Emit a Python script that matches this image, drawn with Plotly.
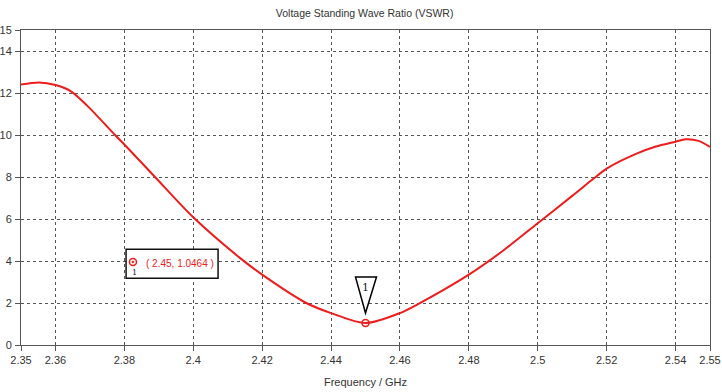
import plotly.graph_objects as go

# --- data ---
freq_ghz = [2.35, 2.3552, 2.36, 2.3643, 2.3692, 2.3773, 2.38, 2.3889, 2.40, 2.4139,
            2.42, 2.4328, 2.44, 2.45, 2.46, 2.4655, 2.48, 2.49, 2.50, 2.51,
            2.5164, 2.52, 2.5285, 2.5343, 2.54, 2.5429, 2.5467, 2.55]
vswr = [12.40, 12.50, 12.38, 12.1, 11.4, 10.0, 9.55, 8.0, 6.08, 4.1,
        3.35, 2.0, 1.52, 1.0464, 1.52, 1.97, 3.35, 4.5, 5.8, 7.1,
        7.95, 8.4, 9.1, 9.45, 9.68, 9.8, 9.72, 9.43]

x_tickvals = [2.35, 2.36, 2.38, 2.40, 2.42, 2.44, 2.46, 2.48, 2.50, 2.52, 2.54, 2.55]
x_ticktext = ["2.35", "2.36", "2.38", "2.4", "2.42", "2.44", "2.46", "2.48", "2.5", "2.52", "2.54", "2.55"]
y_tickvals = [0, 2, 4, 6, 8, 10, 12, 14, 15]

marker_x = 2.45
marker_y = 1.0464
marker_label = "1"
label_box_x = 2.3805   # left edge of the readout box
label_box_y = 3.85

FONT = "Liberation Sans, Arial, sans-serif"
GRID = "#555555"
RED = "#ee1c1c"

fig = go.Figure()

# readout box background (between grid and traces)
fig.add_shape(type="rect", xref="x", yref="y", xsizemode="pixel", ysizemode="pixel",
              xanchor=label_box_x, yanchor=label_box_y,
              x0=0, x1=92, y0=-14, y1=15, layer="between",
              line=dict(color="#111111", width=1.5), fillcolor="white")

fig.add_trace(go.Scatter(x=freq_ghz, y=vswr, mode="lines",
                         line=dict(color=RED, width=2, shape="spline", smoothing=0.8),
                         hoverinfo="x+y", showlegend=False))
# marker point on curve
fig.add_trace(go.Scatter(x=[marker_x], y=[marker_y], mode="markers",
                         marker=dict(symbol="circle-open", size=7, color=RED,
                                     line=dict(width=1.5, color=RED)),
                         showlegend=False, hoverinfo="skip"))
# marker symbol inside the readout box
fig.add_trace(go.Scatter(x=[label_box_x + 0.002], y=[label_box_y + 0.1], mode="markers",
                         marker=dict(symbol="circle-open-dot", size=7, color=RED,
                                     line=dict(width=1.5, color=RED)),
                         showlegend=False, hoverinfo="skip"))

# inverted triangle marker flag above the point (pixel-sized, anchored on the point)
fig.add_shape(type="path", xref="x", yref="y", xsizemode="pixel", ysizemode="pixel",
              xanchor=marker_x, yanchor=marker_y,
              path="M -10,46 L 11,46 L 0,10 Z",
              line=dict(color="black", width=1.5), fillcolor="white")
fig.add_annotation(x=marker_x, y=marker_y, text=marker_label, showarrow=False,
                   yshift=36, font=dict(family="DejaVu Serif, serif", size=11, color="#222"))

# readout text
fig.add_annotation(x=label_box_x, y=label_box_y, xanchor="left", yanchor="middle",
                   text="( %g, %s )" % (marker_x, "%.4f" % marker_y),
                   showarrow=False, xshift=18, yshift=1,
                   font=dict(family=FONT, size=10, color=RED))
fig.add_annotation(x=label_box_x, y=label_box_y, xanchor="center", yanchor="middle",
                   text=marker_label, showarrow=False, xshift=8, yshift=-8,
                   font=dict(family="DejaVu Serif, serif", size=8, color="#222"))

axis_common = dict(showgrid=True, gridcolor=GRID, griddash="dot", gridwidth=1,
                   showline=True, linecolor="#555555", linewidth=1, mirror=True,
                   ticks="outside", ticklen=5, tickcolor="#555555", zeroline=False,
                   automargin=False,
                   tickfont=dict(family=FONT, size=11, color="#333333"))

fig.update_xaxes(range=[2.35, 2.55], tickvals=x_tickvals, ticktext=x_ticktext,
                 title=dict(text="Frequency / GHz", font=dict(family=FONT, size=11, color="#333333"),
                            standoff=13),
                 **axis_common)
fig.update_yaxes(range=[0, 15], tickvals=y_tickvals, ticklabelstandoff=1, **axis_common)

fig.update_layout(
    width=722, height=392,
    margin=dict(l=21, r=12, t=30, b=47),
    paper_bgcolor="white", plot_bgcolor="white",
    title=dict(text="Voltage Standing Wave Ratio (VSWR)", x=0.505, xanchor="center",
               y=0.965, yanchor="middle",
               font=dict(family=FONT, size=10.5, color="#333333")),
)

fig.write_html("out.html", config={"displayModeBar": False},
               post_script="document.body.style.margin='0px';")
